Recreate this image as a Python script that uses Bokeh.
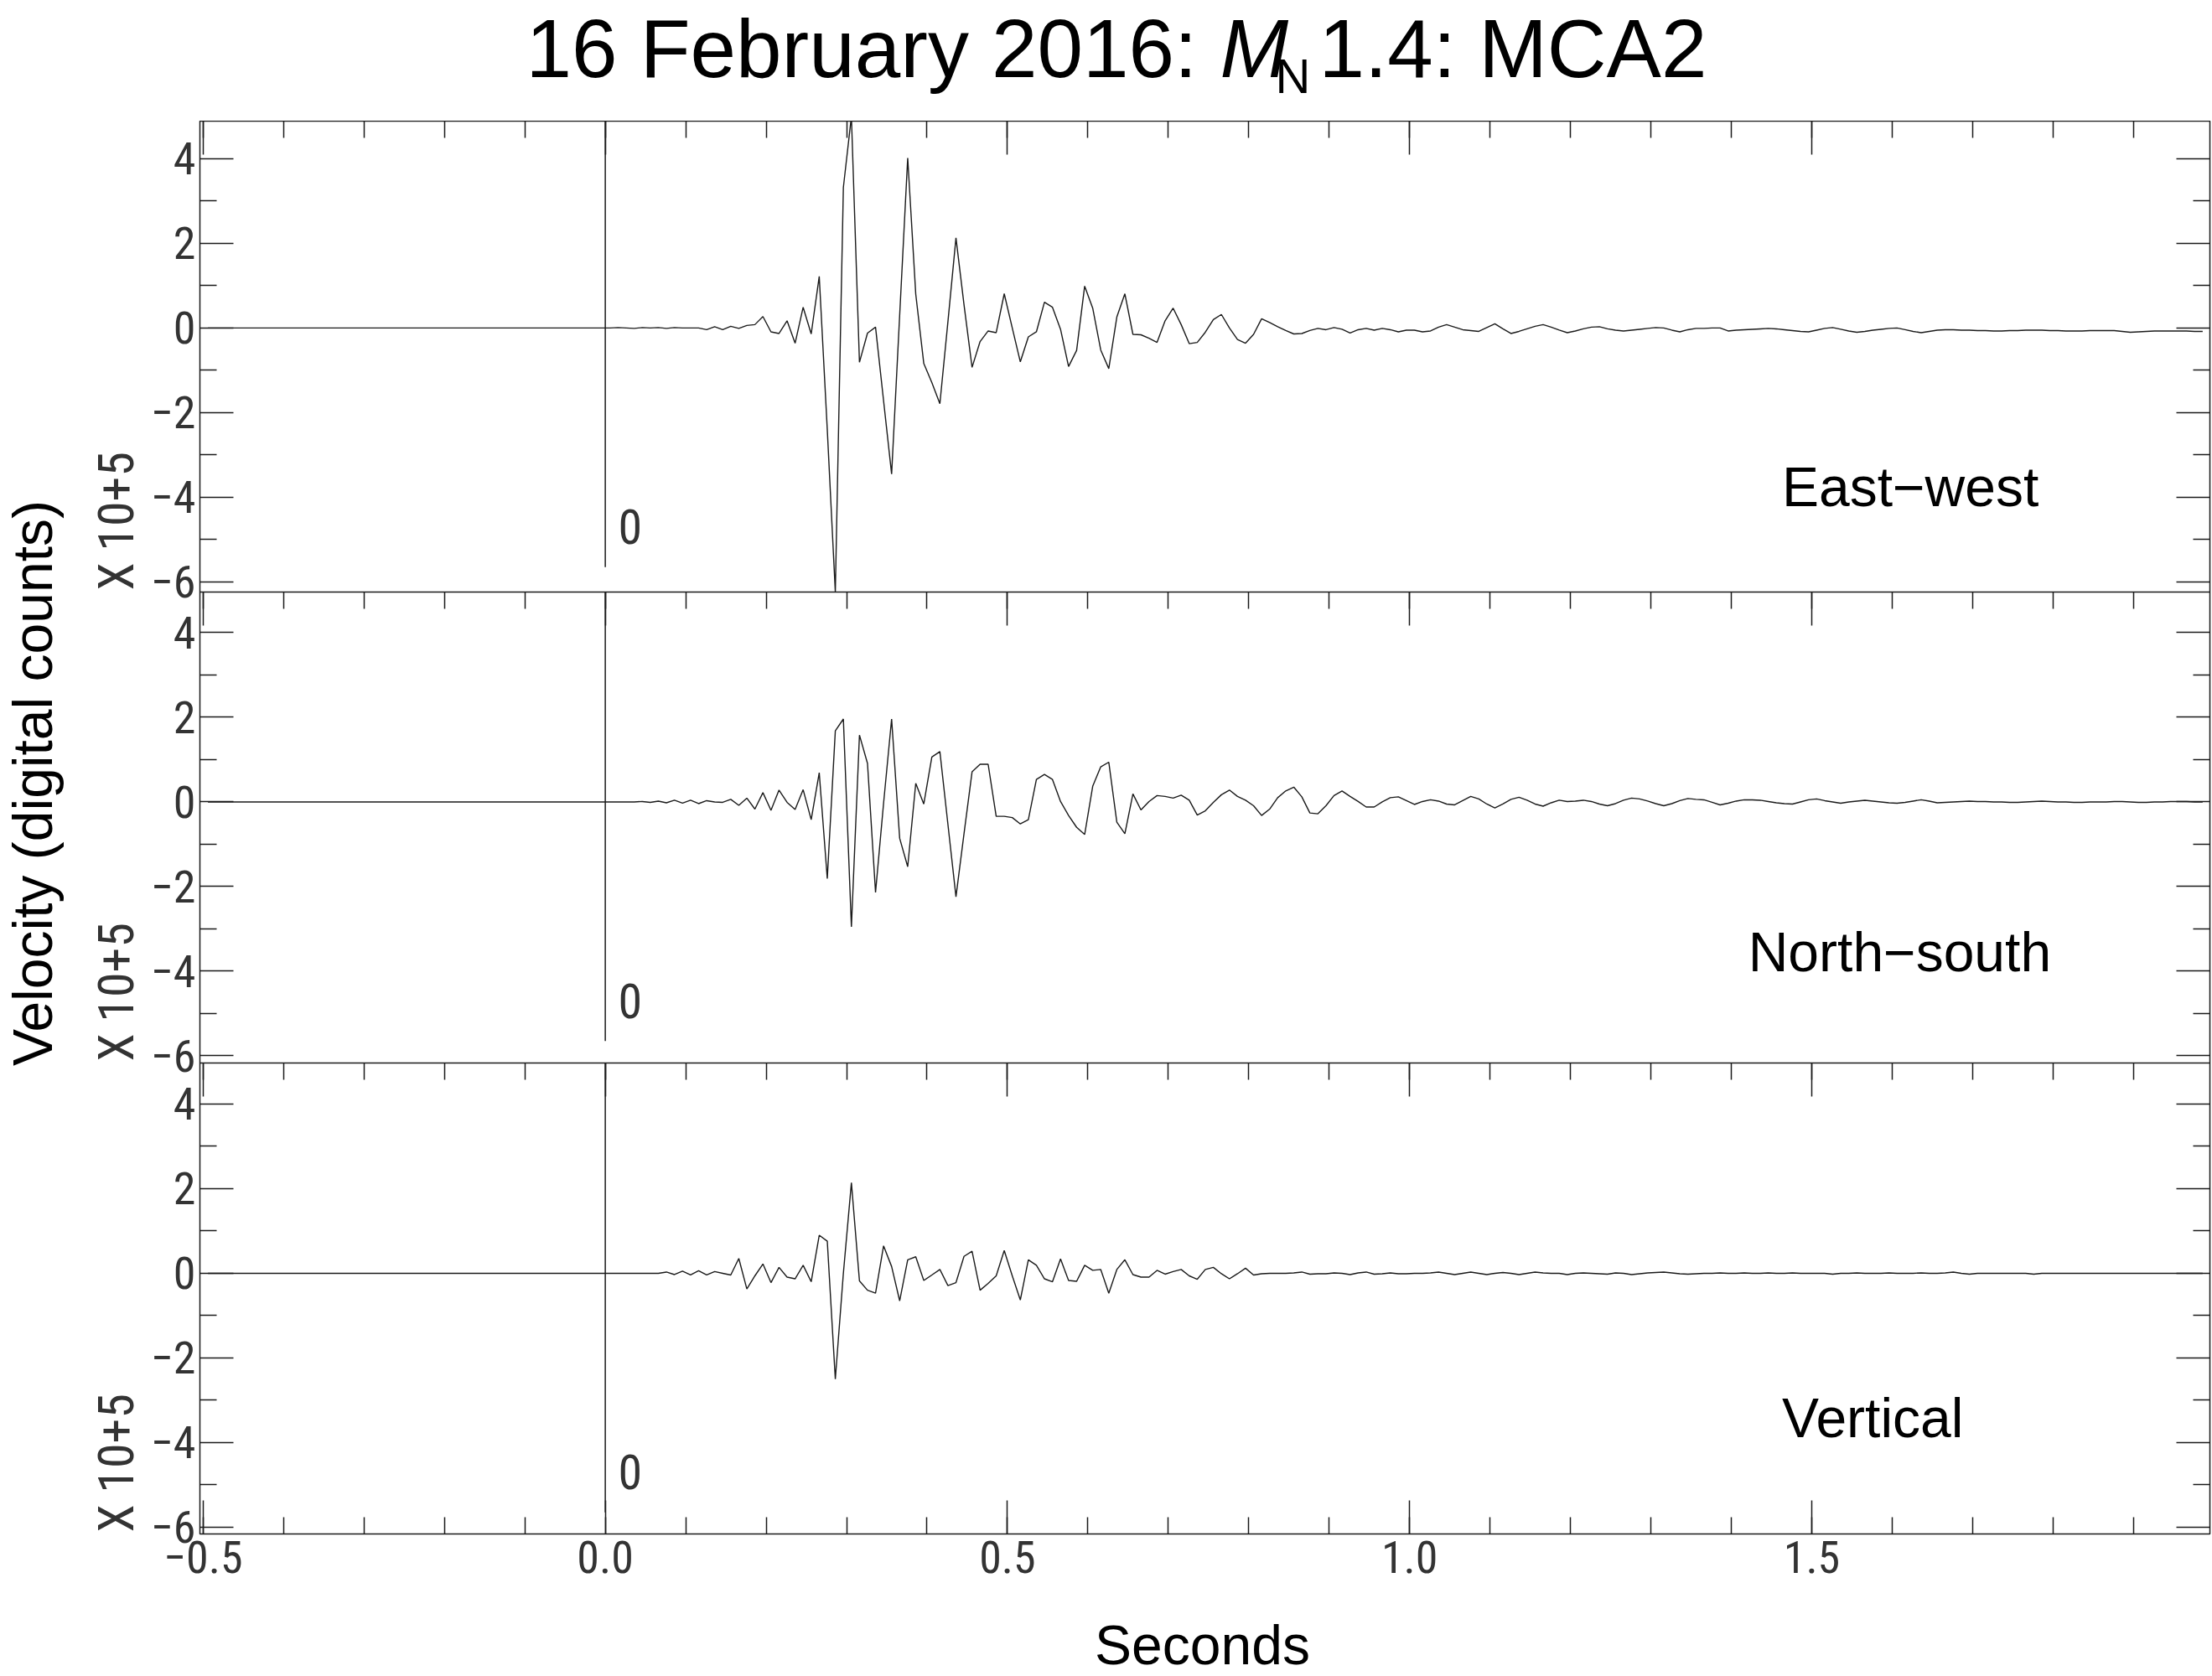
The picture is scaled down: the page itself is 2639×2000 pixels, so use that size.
import math
from bokeh.plotting import figure
from bokeh.models import (Range1d, LinearAxis, SingleIntervalTicker, FixedTicker, Label,
                          ColumnDataSource, Span)
from bokeh.layouts import column, row
from bokeh.embed import file_html
from bokeh.resources import INLINE

# ---------------- data ----------------
start_time = -0.494      # s, first sample
sample_interval = 0.01   # s (100 samples per second)

east_west = [
    0.00, 0.00, 0.00, 0.00, 0.00, 0.00, 0.00, 0.00, 0.00, 0.00, 0.00, 0.00, 0.00, 0.00, 0.00, 0.00, 0.00, 0.00, 0.00, 0.00, 0.00, 0.00, 0.00, 0.00, 0.00,
    0.00, 0.00, 0.00, 0.00, 0.00, 0.00, 0.00, 0.00, 0.00, 0.00, 0.00, 0.00, 0.00, 0.00, 0.00, 0.00, 0.00, 0.00, 0.00, 0.00, 0.00, 0.00, 0.00, 0.00, 0.00,
    0.00, 0.01, 0.00, -0.01, 0.01, 0.00, 0.01, -0.01, 0.01, 0.00, 0.00,
    0.00, -0.04, 0.03, -0.04, 0.04, -0.01, 0.06, 0.08, 0.27, -0.09,
    -0.13, 0.17, -0.36, 0.49, -0.14, 1.22, -2.40, -6.24, 3.32, 5.00,
    -0.81, -0.12, 0.02, -1.72, -3.45, 0.30, 4.02, 0.80, -0.84, -1.29,
    -1.79, 0.15, 2.13, 0.55, -0.93, -0.32, -0.07, -0.11, 0.81, 0.00,
    -0.80, -0.21, -0.09, 0.61, 0.49, -0.03, -0.91, -0.53, 0.99, 0.47,
    -0.52, -0.96, 0.26, 0.81, -0.15, -0.16, -0.24, -0.34, 0.17, 0.47,
    0.08, -0.37, -0.34, -0.10, 0.20, 0.32, 0.00, -0.27, -0.36, -0.15,
    0.22, 0.13, 0.03, -0.06, -0.14, -0.13, -0.06, -0.01, -0.04, 0.01,
    -0.03, -0.12, -0.04, -0.01, -0.05, -0.01, -0.04, -0.09, -0.05, -0.05,
    -0.09,
    -0.07, 0.02, 0.08, 0.02, -0.04, -0.06, -0.08, 0.01, 0.10, -0.02,
    -0.13, -0.08, -0.02, 0.04, 0.08, 0.02, -0.05, -0.11, -0.07, -0.02,
    0.02, 0.03, -0.02, -0.05, -0.07, -0.05, -0.03, -0.01, 0.01, 0.00,
    -0.05, -0.09, -0.04, -0.01, -0.01, 0.00, 0.00, -0.07, -0.05, -0.04,
    -0.03, -0.02, -0.01, -0.02, -0.04, -0.06, -0.08, -0.09, -0.05, -0.01,
    0.01, -0.03, -0.07, -0.10, -0.08, -0.05, -0.03, -0.01, 0.00, -0.04,
    -0.08, -0.11, -0.08, -0.05, -0.04, -0.04, -0.05, -0.05, -0.06, -0.06,
    -0.07, -0.07, -0.06, -0.06, -0.05, -0.05, -0.05, -0.06, -0.06, -0.07,
    -0.07, -0.07, -0.06, -0.06, -0.06, -0.06, -0.08, -0.10, -0.09, -0.08,
    -0.07, -0.07, -0.07, -0.07, -0.07, -0.08, -0.08,
]

north_south = [
    0.00, 0.00, 0.00, 0.00, 0.00, 0.00, 0.00, 0.00, 0.00, 0.00, 0.00, 0.00, 0.00, 0.00, 0.00, 0.00, 0.00, 0.00, 0.00, 0.00, 0.00, 0.00, 0.00, 0.00, 0.00,
    0.00, 0.00, 0.00, 0.00, 0.00, 0.00, 0.00, 0.00, 0.00, 0.00, 0.00, 0.00, 0.00, 0.00, 0.00, 0.00, 0.00, 0.00, 0.00, 0.00, 0.00, 0.00, 0.00, 0.00, 0.00,
    0.00, 0.00, 0.00, 0.00, 0.01, -0.01, 0.02, -0.02, 0.04, -0.03, 0.04,
    -0.04, 0.03, 0.00, -0.01, 0.06, -0.08, 0.09, -0.17, 0.22, -0.20,
    0.28, -0.01, -0.18, 0.29, -0.42, 0.69, -1.81, 1.68, 1.96, -2.95,
    1.58, 0.91, -2.14, -0.03, 1.96, -0.86, -1.53, 0.44, -0.05, 1.06,
    1.19, -0.53, -2.24, -0.75, 0.71, 0.89, 0.89, -0.34, -0.34, -0.37,
    -0.52, -0.42, 0.53, 0.65, 0.53, 0.01, -0.32, -0.60, -0.77, 0.37,
    0.83, 0.94, -0.48, -0.75, 0.19, -0.19, 0.01, 0.15, 0.13, 0.09,
    0.16, 0.04, -0.31, -0.21, -0.01, 0.17, 0.28, 0.13, 0.04, -0.09,
    -0.32, -0.17, 0.10, 0.26, 0.35, 0.12, -0.26, -0.28, -0.09, 0.15,
    0.26, 0.13, 0.01, -0.12, -0.12, 0.00, 0.10, 0.12, 0.03, -0.06,
    0.01,
    0.05, 0.02, -0.05, -0.07, 0.03, 0.13, 0.07, -0.05, -0.14, -0.05,
    0.06, 0.11, 0.04, -0.05, -0.10, -0.02, 0.04, 0.01, 0.02, 0.04,
    0.01, -0.05, -0.09, -0.04, 0.04, 0.09, 0.07, 0.02, -0.04, -0.09,
    -0.04, 0.03, 0.08, 0.06, 0.05, -0.01, -0.07, -0.03, 0.02, 0.05,
    0.05, 0.04, 0.01, -0.02, -0.04, -0.05, 0.00, 0.05, 0.07, 0.03,
    0.00, -0.03, 0.00, 0.02, 0.04, 0.02, 0.00, -0.02, -0.03, -0.01,
    0.02, 0.05, 0.02, -0.02, -0.01, 0.00, 0.01, 0.02, 0.01, 0.01,
    0.00, 0.00, -0.01, -0.01, 0.00, 0.01, 0.02, 0.01, 0.00, 0.00,
    -0.01, -0.01, 0.00, 0.00, 0.00, 0.01, 0.01, 0.00, -0.01, -0.01,
    0.00, 0.00, 0.01, 0.01, 0.01, 0.00, 0.00,
]

vertical = [
    0.00, 0.00, 0.00, 0.00, 0.00, 0.00, 0.00, 0.00, 0.00, 0.00, 0.00, 0.00, 0.00, 0.00, 0.00, 0.00, 0.00, 0.00, 0.00, 0.00, 0.00, 0.00, 0.00, 0.00, 0.00,
    0.00, 0.00, 0.00, 0.00, 0.00, 0.00, 0.00, 0.00, 0.00, 0.00, 0.00, 0.00, 0.00, 0.00, 0.00, 0.00, 0.00, 0.00, 0.00, 0.00, 0.00, 0.00, 0.00, 0.00, 0.00,
    0.00, 0.00, 0.00, 0.00, 0.00, 0.00, 0.00, 0.03, -0.03, 0.05, -0.04,
    0.06, -0.04, 0.04, 0.00, -0.04, 0.35, -0.37, -0.06, 0.22, -0.22,
    0.14, -0.09, -0.13, 0.19, -0.20, 0.90, 0.76, -2.50, 0.00, 2.14,
    -0.18, -0.40, -0.47, 0.65, 0.16, -0.65, 0.32, 0.39, -0.17, -0.04,
    0.09, -0.29, -0.22, 0.40, 0.52, -0.40, -0.24, -0.06, 0.54, -0.06,
    -0.63, 0.32, 0.19, -0.13, -0.20, 0.34, -0.17, -0.19, 0.19, 0.07,
    0.09, -0.47, 0.09, 0.32, -0.03, -0.09, -0.09, 0.07, -0.02, 0.04,
    0.09, -0.06, -0.14, 0.09, 0.14, -0.01, -0.13, -0.01, 0.12, -0.04,
    -0.01, 0.00, 0.00, 0.00, 0.01, 0.03, -0.02, -0.01, -0.01, 0.01,
    0.00, -0.03, 0.01, 0.03, -0.02, -0.01, 0.01, -0.01, -0.01, 0.00,
    0.00,
    0.01, 0.03, 0.00, -0.03, 0.00, 0.03, 0.00, -0.03, 0.00, 0.02,
    0.00, -0.03, 0.00, 0.03, 0.01, 0.00, 0.00, -0.03, 0.00, 0.01,
    0.00, -0.01, -0.02, 0.01, 0.00, -0.03, -0.01, 0.01, 0.02, 0.03,
    0.01, -0.01, -0.02, -0.01, 0.00, 0.00, 0.01, 0.00, 0.00, 0.01,
    0.00, 0.00, 0.01, 0.00, 0.00, 0.01, 0.00, 0.00, 0.00, 0.00,
    -0.02, 0.00, 0.00, 0.01, 0.00, 0.00, 0.00, 0.01, 0.00, 0.00,
    0.00, 0.01, 0.00, 0.00, 0.01, 0.03, 0.00, -0.02, 0.00, 0.00,
    0.00, 0.00, 0.00, 0.00, 0.00, -0.02, 0.00, 0.00, 0.00, 0.00,
    0.00, 0.00, 0.00, 0.00, 0.00, 0.00, 0.00, 0.00, 0.00, 0.00,
    0.00, 0.00, 0.00, 0.00, 0.00, 0.00, 0.00,
]

components = ["East\u2212west", "North\u2212south", "Vertical"]
component_keys = ["ew", "ns", "z"]
x_ticks = [-0.5, 0.0, 0.5, 1.0, 1.5]
x_tick_labels = ["\u22120.5", "0.0", "0.5", "1.0", "1.5"]
y_ticks = [-6, -4, -2, 0, 2, 4]
y_tick_labels = ["\u22126", "\u22124", "\u22122", "0", "2", "4"]
y_minor_ticks = [-5, -3, -1, 1, 3]
scale_label = "X 10+5"
origin_label = "0"
pick_time = 0.0
x_title = "Seconds"
y_title = "Velocity (digital counts)"
title_parts = ["16 February 2016:", "M", "N", "1.4: MCA2"]

n_samples = len(east_west)
assert len(north_south) == n_samples and len(vertical) == n_samples
time_s = [round(start_time + sample_interval * k, 3) for k in range(n_samples)]
source = ColumnDataSource(dict(time=time_s, ew=east_west, ns=north_south, z=vertical))

# ---------------- layout / style ----------------
INK = "#1a1a1a"
GREY = "#333333"
SANS = "Liberation Sans"
NARROW = "Roboto Condensed, Roboto"
PAGE_W, PAGE_H = 2639, 2000
HEADER_H = 144
STRIP_W = 175
X_RANGE = (-0.504, 1.995)
Y_RANGES = [(-6.24, 4.89), (-6.17, 4.96), (-6.16, 4.97)]   # per panel (data units)
FRAME_W, PANEL_H = 2398, 562
MAIN_LEFT = 238 - STRIP_W
MAIN_RIGHT = PAGE_W - 238 - FRAME_W
BOTTOM_AXIS_H = 70
FOOTER_H = PAGE_H - HEADER_H - 3 * PANEL_H - BOTTOM_AXIS_H
# label anchors (x in seconds, y in each panel's units)
COMP_LABEL_POS = [(1.463, -3.76), (1.421, -3.55), (1.463, -3.41)]


def blank_fig(w, h, bottom=0):
    f = figure(width=w, height=h, x_range=Range1d(0, 1), y_range=Range1d(0, 1),
               min_border=0, min_border_bottom=bottom,
               x_axis_location=None, y_axis_location=None, title=None,
               output_backend="svg", toolbar_location=None)
    f.outline_line_color = None
    f.grid.visible = False
    f.background_fill_color = "white"
    f.border_fill_color = "white"
    return f


def screen_label(f, x, y, text, font, size, style="normal", align="left", angle=0.0, color="black"):
    f.add_layout(Label(x=x, y=y, x_units="screen", y_units="screen", text=text,
                       text_font=font, text_font_size=size, text_font_style=style,
                       text_color=color, text_align=align, text_baseline="middle",
                       angle=angle))


def style_axis(ax, overrides=None, standoff=0):
    ax.axis_line_color = None
    ax.major_tick_in = 40
    ax.major_tick_out = 0
    ax.minor_tick_in = 20
    ax.minor_tick_out = 0
    ax.major_tick_line_color = INK
    ax.minor_tick_line_color = INK
    ax.major_tick_line_width = 1.5
    ax.minor_tick_line_width = 1.5
    if overrides is None:
        ax.major_label_text_font_size = "0px"
        ax.major_label_text_color = None
        ax.major_label_standoff = 0
    else:
        ax.major_label_overrides = overrides
        ax.major_label_text_font = NARROW
        ax.major_label_text_font_size = "54px"
        ax.major_label_text_color = GREY
        ax.major_label_standoff = standoff
    return ax


# ---- header with the title ----
header = blank_fig(PAGE_W, HEADER_H)
screen_label(header, 627, 87, title_parts[0], SANS, "98px")
screen_label(header, 1455, 87, title_parts[1], SANS, "98px", style="italic")
screen_label(header, 1521, 54, title_parts[2], SANS, "58px")
screen_label(header, 1573, 87, title_parts[3], SANS, "98px")

# ---- left strip with the y title and the scale notes (frame matches the panels) ----
strip = blank_fig(STRIP_W, 3 * PANEL_H + BOTTOM_AXIS_H, bottom=BOTTOM_AXIS_H)
screen_label(strip, 38, 896, y_title, SANS, "66px", align="center", angle=math.pi / 2)
for yy in (2 * PANEL_H + 2, PANEL_H + 2, 2):
    screen_label(strip, 138, yy, scale_label, NARROW, "60px", angle=math.pi / 2, color=GREY)

# ---- main figure: three stacked panels sharing one frame ----
main = figure(x_range=Range1d(*X_RANGE), y_range=Range1d(0, 3),
              frame_width=FRAME_W, frame_height=3 * PANEL_H,
              min_border=0, min_border_left=MAIN_LEFT, min_border_right=MAIN_RIGHT,
              min_border_top=0, min_border_bottom=BOTTOM_AXIS_H,
              x_axis_location=None, y_axis_location=None, title=None,
              output_backend="svg", toolbar_location=None)
main.grid.visible = False
main.outline_line_color = INK
main.outline_line_width = 1.5
main.background_fill_color = "white"
main.border_fill_color = "white"

# each panel gets its own y scale, occupying one third of the frame
extra = {}
for i, key in enumerate(component_keys):
    lo, hi = Y_RANGES[i]
    span = hi - lo
    extra[key] = Range1d(lo - (2 - i) * span, hi + i * span)
main.extra_y_ranges = extra


def stacked(i, v):
    lo, hi = Y_RANGES[i]
    return round((2 - i) + (v - lo) / (hi - lo), 6)


major_pos, minor_pos, y_over = [], [], {}
for i in range(3):
    for v, lab in zip(y_ticks, y_tick_labels):
        s = stacked(i, v)
        major_pos.append(s)
        y_over[s] = lab
        y_over[str(s)] = lab
    for v in y_minor_ticks:
        minor_pos.append(stacked(i, v))

main.add_layout(style_axis(LinearAxis(ticker=FixedTicker(ticks=major_pos, minor_ticks=minor_pos)),
                           y_over, standoff=5), "left")
main.add_layout(style_axis(LinearAxis(ticker=FixedTicker(ticks=major_pos, minor_ticks=minor_pos))), "right")
main.add_layout(style_axis(LinearAxis(ticker=SingleIntervalTicker(interval=0.5, num_minor_ticks=5))), "above")
for boundary in (2.0, 1.0):
    main.add_layout(style_axis(LinearAxis(ticker=SingleIntervalTicker(interval=0.5, num_minor_ticks=5),
                                          fixed_location=boundary)), "above")
x_over = {}
for v, lab in zip(x_ticks, x_tick_labels):
    x_over[v] = lab
    x_over[str(v)] = lab
main.add_layout(style_axis(LinearAxis(ticker=SingleIntervalTicker(interval=0.5, num_minor_ticks=5)),
                           x_over, standoff=8), "below")

for boundary in (2.0, 1.0):
    main.add_layout(Span(location=boundary, dimension="width", line_color=INK, line_width=1.5))

for i, (key, comp) in enumerate(zip(component_keys, components)):
    lo, hi = Y_RANGES[i]
    main.line(x="time", y=key, source=source, y_range_name=key, line_color=INK, line_width=1.4)
    main.segment(x0=[pick_time], y0=[-5.65], x1=[pick_time], y1=[hi], y_range_name=key,
                 line_color=INK, line_width=1.5)
    main.add_layout(Label(x=pick_time + 0.016, y=-4.7, y_range_name=key, text=origin_label,
                          text_font=NARROW, text_font_size="58px", text_color=GREY,
                          text_align="left", text_baseline="middle"))
    cx, cy = COMP_LABEL_POS[i]
    main.add_layout(Label(x=cx, y=cy, y_range_name=key, text=comp, text_font=SANS,
                          text_font_size="66px", text_color="black", text_align="left",
                          text_baseline="middle"))

# ---- footer with the x title ----
footer = blank_fig(PAGE_W, FOOTER_H)
screen_label(footer, 1434, 38, x_title, SANS, "66px", align="center")

layout = column(header, row(strip, main, spacing=0), footer, spacing=0)
open("out.html", "w").write(file_html(layout, INLINE))
